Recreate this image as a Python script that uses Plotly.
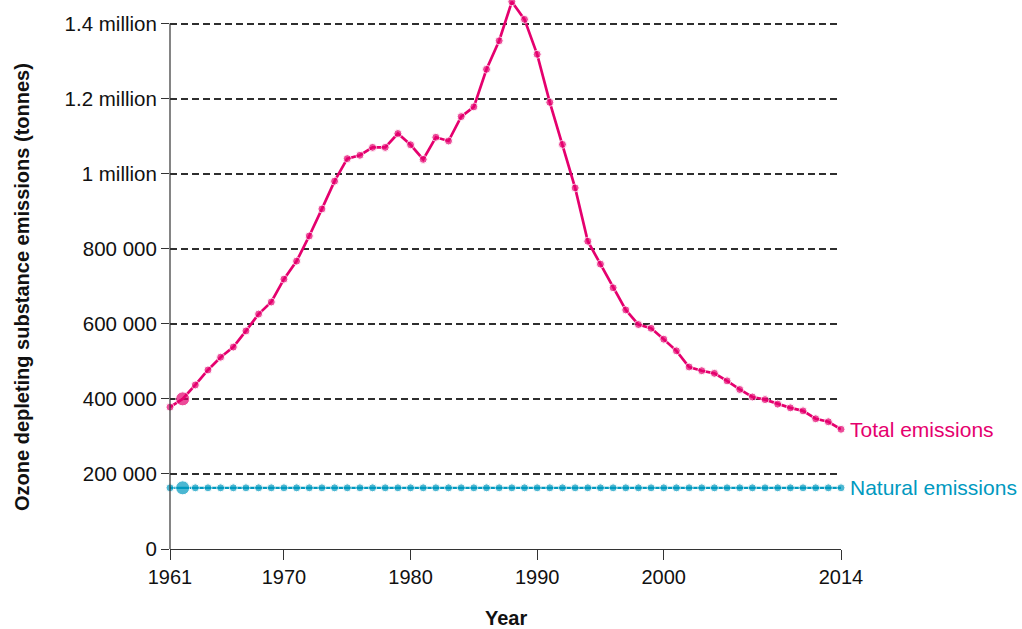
import plotly.graph_objects as go

# Annual ozone depleting substance emissions, 1961-2014 (tonnes)
years = list(range(1961, 2015))
total_emissions = [
    378000, 400000, 437000, 477000, 511000, 538000, 581000, 626000, 658000, 719000,
    767000, 834000, 906000, 980000, 1040000, 1049000, 1070000, 1070000, 1107000, 1077000,
    1038000, 1097000, 1087000, 1152000, 1178000, 1278000, 1354000, 1458000, 1411000, 1318000,
    1190000, 1078000, 962000, 820000, 759000, 696000, 637000, 598000, 588000, 559000,
    528000, 485000, 475000, 468000, 448000, 425000, 405000, 398000, 386000, 376000,
    368000, 347000, 339000, 319000,
]
natural_emissions = [163000] * len(years)

y_tick_values = [0, 200000, 400000, 600000, 800000, 1000000, 1200000, 1400000]
y_tick_labels = ["0", "200 000", "400 000", "600 000", "800 000",
                 "1 million", "1.2 million", "1.4 million"]
x_tick_values = [1961, 1970, 1980, 1990, 2000, 2014]

PINK = "#e5006e"
BLUE = "#0099bf"
AXIS = "#333333"
FONT = "Liberation Sans, Arial, Helvetica, sans-serif"

# second point is highlighted with a larger marker
sizes = [8] * len(years)
sizes[1] = 14

fig = go.Figure()
fig.add_trace(go.Scatter(
    x=years, y=natural_emissions, mode="lines+markers",
    line=dict(color=BLUE, width=2.2), marker=dict(color=BLUE, size=sizes),
    cliponaxis=False, hoverinfo="x+y", name="Natural emissions",
))
fig.add_trace(go.Scatter(
    x=years, y=total_emissions, mode="lines+markers",
    line=dict(color=PINK, width=2.7), marker=dict(color=PINK, size=sizes),
    cliponaxis=False, hoverinfo="x+y", name="Total emissions",
))

fig.add_annotation(x=years[-1], y=total_emissions[-1], text="Total emissions",
                   showarrow=False, xanchor="left", yanchor="middle", xshift=7,
                   font=dict(family=FONT, size=21, color=PINK))
fig.add_annotation(x=years[-1], y=natural_emissions[-1], text="Natural emissions",
                   showarrow=False, xanchor="left", yanchor="middle", xshift=7,
                   font=dict(family=FONT, size=21, color=BLUE))

# axis titles
fig.add_annotation(xref="paper", yref="paper", x=0, y=0, xshift=-148,
                   yshift=262,
                   text="<b>Ozone depleting substance emissions (tonnes)</b>",
                   textangle=-90, showarrow=False, xanchor="center", yanchor="middle",
                   font=dict(family=FONT, size=20, color="#111111"))
fig.add_annotation(xref="paper", yref="paper", x=0.5, y=0, yshift=-69,
                   text="<b>Year</b>", showarrow=False, xanchor="center", yanchor="middle",
                   font=dict(family=FONT, size=20, color="#111111"))

# vertical axis line stops at the top tick
fig.add_shape(type="line", xref="paper", yref="y", x0=0, x1=0,
              y0=0, y1=y_tick_values[-1], line=dict(color=AXIS, width=1.2))

fig.update_layout(
    width=1022, height=629,
    margin=dict(l=170, r=181, t=1, b=80),
    plot_bgcolor="white", paper_bgcolor="white",
    showlegend=False,
    font=dict(family=FONT, size=20, color="#1a1a1a"),
)
fig.update_xaxes(
    range=[1961, 2014], tickvals=x_tick_values,
    showgrid=False, zeroline=False,
    showline=True, linecolor=AXIS, linewidth=1.2,
    ticks="outside", ticklen=10, tickcolor=AXIS, tickwidth=1.2,
    tickfont=dict(family=FONT, size=20, color="#111111"),
)
fig.update_yaxes(
    range=[0, 1460000], tickvals=y_tick_values, ticktext=y_tick_labels,
    showgrid=True, gridcolor="#2e2e2e", gridwidth=1.5, griddash="7px,4px",
    zeroline=True, zerolinecolor=AXIS, zerolinewidth=1.2,
    showline=False,
    ticks="outside", ticklen=8, tickcolor=AXIS, tickwidth=1.2,
    tickfont=dict(family=FONT, size=20.5, color="#111111"),
)

fig.write_html("out.html")
